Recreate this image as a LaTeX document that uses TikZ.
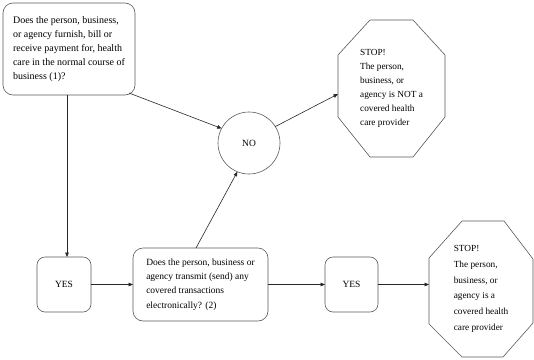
\documentclass[tikz,border=0pt]{standalone}
\usepackage{fontspec}
\setmainfont{Liberation Serif}
\usetikzlibrary{arrows.meta}
\begin{document}
\begin{tikzpicture}[x=1pt,y=-1pt,
  box/.style={draw=black!65,line width=0.6pt,rounded corners=10pt,align=left,inner sep=0pt,outer sep=0pt},
  yesbox/.style={draw=black!65,line width=0.6pt,rounded corners=8pt,inner sep=0pt,outer sep=0pt,minimum width=54pt,minimum height=55pt,font=\fontsize{9.5}{12}\selectfont},
  nocirc/.style={draw=black!65,line width=0.6pt,circle,inner sep=0pt,outer sep=0pt,minimum size=62pt,font=\fontsize{9.5}{12}\selectfont},
  octbox/.style={inner sep=0pt,outer sep=0pt,align=left},
  octline/.style={draw=black!65,line width=0.6pt},
  conn/.style={draw=black!85,line width=0.6pt,-{Triangle[length=4.5pt,width=3.6pt]}}
]
\useasboundingbox (0,0) rectangle (534,359);

% nodes
\node[box,minimum width=132pt,minimum height=92pt,font=\fontsize{10}{14}\selectfont] (q1) at (69,49)
  {Does the person, business,\\or agency furnish, bill or\\receive payment for, health\\care in the normal course of\\business (1)?};
\node[nocirc] (no) at (249,143) {NO};
\node[octbox,minimum width=107pt,minimum height=137pt,font=\fontsize{9.3}{14.1}\selectfont] (stop1) at (391.5,88.5)
  {STOP!\\The person,\\business, or\\agency is NOT a\\covered health\\care provider};
\node[yesbox] (yes1) at (64,284.5) {YES};
\node[box,minimum width=135pt,minimum height=73pt,font=\fontsize{9.5}{14.2}\selectfont] (q2) at (200.5,284.5)
  {Does the person, business or\\agency transmit (send) any\\covered transactions\\electronically? (2)};
\node[yesbox,minimum width=53pt] (yes2) at (351.5,284.5) {YES};
\node[octbox,minimum width=104pt,minimum height=136pt,font=\fontsize{9.3}{15.8}\selectfont] (stop2) at (481,289)
  {STOP!\\The person,\\business, or\\agency is a\\covered health\\care provider};

% octagon outlines
\draw[octline] ([xshift=32pt]stop1.north west) -- ([xshift=-32pt]stop1.north east)
  -- ([yshift=-35pt]stop1.north east) -- ([yshift=40pt]stop1.south east)
  -- ([xshift=-32pt]stop1.south east) -- ([xshift=32pt]stop1.south west)
  -- ([yshift=40pt]stop1.south west) -- ([yshift=-35pt]stop1.north west) -- cycle;
\draw[octline] ([xshift=33pt]stop2.north west) -- ([xshift=-29pt]stop2.north east)
  -- ([yshift=-38pt]stop2.north east) -- ([yshift=34pt]stop2.south east)
  -- ([xshift=-30pt]stop2.south east) -- ([xshift=33pt]stop2.south west)
  -- ([yshift=33pt]stop2.south west) -- ([yshift=-37pt]stop2.north west) -- cycle;

% connectors
\draw[conn] ([xshift=-2pt]q1.south) -- ([xshift=3pt]yes1.north);
\draw[conn] ([xshift=-6pt,yshift=2pt]q1.south east) -- (no.152);
\draw[conn] ([xshift=-4.5pt]q2.north) -- (no.248);
\draw[conn] (no.32) -- ([yshift=-5.5pt]stop1.west);
\draw[conn] (yes1.east) -- (q2.west);
\draw[conn] (q2.east) -- (yes2.west);
\draw[conn] (yes2.east) -- (yes2.east -| stop2.west);
\end{tikzpicture}
\end{document}
